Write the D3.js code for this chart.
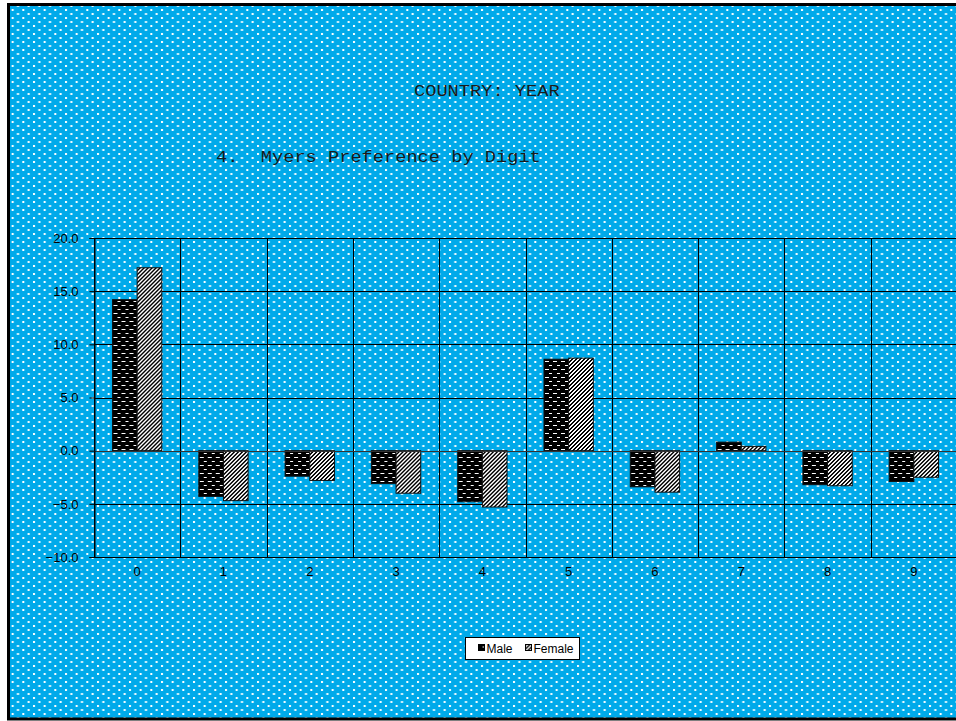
<!DOCTYPE html>
<html>
<head>
<meta charset="utf-8">
<script src="https://cdn.jsdelivr.net/npm/d3@7/dist/d3.min.js"></script>
<style>
  html, body { margin: 0; padding: 0; background: #ffffff; }
  svg { display: block; }
</style>
</head>
<body>
<script>
// Myers preference index by terminal digit, by sex
const digits = ["0", "1", "2", "3", "4", "5", "6", "7", "8", "9"];
const maleValues = [14.2, -4.3, -2.4, -3.1, -4.8, 8.6, -3.4, 0.8, -3.2, -2.9];
const femaleValues = [17.2, -4.7, -2.8, -4.0, -5.3, 8.7, -3.9, 0.4, -3.3, -2.5];
const seriesNames = ["Male", "Female"];
const yTicks = [-10, -5, 0, 5, 10, 15, 20];
const titleLines = ["COUNTRY: YEAR", "4.  Myers Preference by Digit"];

const W = 956, H = 721;
const plot = { left: 94, right: 957, top: 238, bottom: 557 };

const svg = d3.select("body").append("svg")
  .attr("width", W).attr("height", H);

const defs = svg.append("defs");

// dotted blue backdrop
const dots = defs.append("pattern")
  .attr("id", "dots").attr("patternUnits", "userSpaceOnUse")
  .attr("width", 32 / 3).attr("height", 8);
dots.append("rect").attr("width", 32 / 3).attr("height", 8).attr("fill", "#00aaea");
dots.append("rect").attr("x", 1).attr("y", 1).attr("width", 2).attr("height", 2).attr("fill", "#ffffff");
dots.append("rect").attr("x", 1 + 16 / 3).attr("y", 5).attr("width", 2).attr("height", 2).attr("fill", "#ffffff");

// male fill: black with short white dashes in staggered rows
const dash = defs.append("pattern")
  .attr("id", "maleFill").attr("patternUnits", "userSpaceOnUse")
  .attr("width", 8).attr("height", 8);
dash.append("rect").attr("width", 8).attr("height", 8).attr("fill", "#000000");
[[1, 1], [5, 5]].forEach(([px, py]) => {
  dash.append("rect").attr("x", px).attr("y", py).attr("width", 4).attr("height", 1).attr("fill", "#ffffff");
});
dash.append("rect").attr("x", 1).attr("y", 3).attr("width", 3).attr("height", 1).attr("fill", "#ffffff").attr("opacity", 0);

// female fill: wide upward diagonal stripes, drawn pixel by pixel so they stay crisp
const diag = defs.append("pattern")
  .attr("id", "femaleFill").attr("patternUnits", "userSpaceOnUse")
  .attr("width", 4).attr("height", 4);
diag.append("rect").attr("width", 4).attr("height", 4).attr("fill", "#000000");
for (let py = 0; py < 4; py++) {
  for (let px = 0; px < 4; px++) {
    if ((px + py) % 4 === 0 || (px + py) % 4 === 1) {
      diag.append("rect").attr("x", px).attr("y", py).attr("width", 1).attr("height", 1).attr("fill", "#ffffff");
    }
  }
}

const fills = ["url(#maleFill)", "url(#femaleFill)"];

// chart area with frame
svg.append("rect")
  .attr("x", 8.5).attr("y", 4.5).attr("width", 960).attr("height", 714.5)
  .attr("fill", "url(#dots)").attr("stroke", "#000").attr("stroke-width", 3);

// titles in a wide monospace face
svg.append("text")
  .attr("x", 414).attr("y", 96)
  .attr("textLength", 13 * 11.2).attr("lengthAdjust", "spacingAndGlyphs")
  .attr("font-family", "'Liberation Mono', 'Courier New', monospace")
  .attr("font-size", 16).attr("fill", "#1a1a1a")
  .style("white-space", "pre")
  .text(titleLines[0]);
svg.append("text")
  .attr("x", 216).attr("y", 162)
  .attr("textLength", titleLines[1].length * 11.2).attr("lengthAdjust", "spacingAndGlyphs")
  .attr("font-family", "'Liberation Mono', 'Courier New', monospace")
  .attr("font-size", 16).attr("fill", "#1a1a1a")
  .attr("xml:space", "preserve")
  .style("white-space", "pre")
  .text(titleLines[1]);

// scales
const x = d3.scaleBand().domain(digits).range([plot.left, plot.right]).paddingInner(0).paddingOuter(0);
const groupW = x.bandwidth() / 1.75;
const xSub = d3.scaleBand().domain(seriesNames).range([0, groupW]).padding(0);
const y = d3.scaleLinear().domain([-10, 20]).range([plot.bottom, plot.top]);

// gridlines
const grid = svg.append("g").attr("stroke", "#000").attr("stroke-width", 1);
grid.selectAll("line.h").data(yTicks).join("line")
  .attr("x1", plot.left).attr("x2", plot.right)
  .attr("y1", d => Math.round(y(d)) + 0.5).attr("y2", d => Math.round(y(d)) + 0.5);
const bounds = digits.map(d => x(d)).concat([plot.right]);
grid.selectAll("line.v").data(bounds).join("line")
  .attr("x1", d => Math.round(d) + 0.5).attr("x2", d => Math.round(d) + 0.5)
  .attr("y1", plot.top).attr("y2", plot.bottom);

// bars
const rows = digits.map((d, i) => ({ digit: d, values: [maleValues[i], femaleValues[i]] }));
const groups = svg.append("g").selectAll("g").data(rows).join("g")
  .attr("transform", d => `translate(${x(d.digit) + (x.bandwidth() - groupW) / 2},0)`);
groups.selectAll("rect").data(d => d.values.map((v, j) => ({ v, name: seriesNames[j], j })))
  .join("rect")
  .attr("x", d => xSub(d.name))
  .attr("width", xSub.bandwidth())
  .attr("y", d => y(Math.max(0, d.v)))
  .attr("height", d => Math.abs(y(d.v) - y(0)))
  .attr("fill", d => fills[d.j])
  .attr("stroke", "#111").attr("stroke-width", 1);

// zero line over bars
svg.append("line")
  .attr("x1", plot.left).attr("x2", plot.right)
  .attr("y1", Math.round(y(0)) + 0.5).attr("y2", Math.round(y(0)) + 0.5)
  .attr("stroke", "#333").attr("stroke-width", 1.2);

// y axis
const yAxis = d3.axisLeft(y).tickValues(yTicks).tickSize(5).tickPadding(11)
  .tickFormat(d3.format(".1f"));
const yg = svg.append("g").attr("transform", `translate(${plot.left + 0.5},0)`).call(yAxis);
yg.select(".domain").attr("stroke", "#000");
yg.selectAll(".tick line").attr("stroke", "#000");
yg.selectAll(".tick text")
  .attr("font-family", "'Liberation Sans', Arial, sans-serif")
  .attr("font-size", 13).attr("fill", "#000");

// x axis labels
const xAxis = d3.axisBottom(x).tickSize(0).tickPadding(10);
const xg = svg.append("g").attr("transform", `translate(0,${plot.bottom})`).call(xAxis);
xg.select(".domain").remove();
xg.selectAll(".tick text")
  .attr("font-family", "'Liberation Sans', Arial, sans-serif")
  .attr("font-size", 13).attr("fill", "#000");

// legend
const legend = svg.append("g").attr("transform", "translate(465.5,637.5)");
legend.append("rect").attr("width", 114).attr("height", 22)
  .attr("fill", "#fff").attr("stroke", "#000").attr("stroke-width", 1);
const legendX = [13, 60];
seriesNames.forEach((name, j) => {
  legend.append("rect")
    .attr("x", legendX[j]).attr("y", 7).attr("width", 6).attr("height", 6)
    .attr("fill", fills[j]).attr("stroke", "#000").attr("stroke-width", 1);
  legend.append("text")
    .attr("x", legendX[j] + 8).attr("y", 15.5)
    .attr("font-family", "'Liberation Sans', Arial, sans-serif")
    .attr("font-size", 12).attr("fill", "#000")
    .text(name);
});
</script>
</body>
</html>
